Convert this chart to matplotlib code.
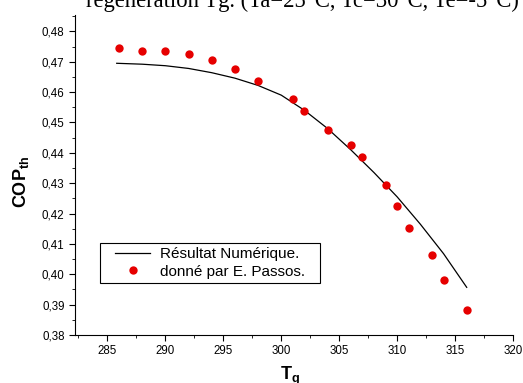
import numpy as np
import matplotlib.pyplot as plt
from matplotlib.ticker import MultipleLocator, FuncFormatter
from matplotlib.patches import Rectangle

# courbe numérique
t_num = [285.8, 288, 290, 292, 294, 296, 298, 300, 302, 304, 306, 308, 310, 312, 314, 316]
cop_num = [0.4695, 0.4692, 0.4687, 0.4678, 0.4664, 0.4646, 0.4622, 0.4590, 0.4540,
           0.4480, 0.4410, 0.4335, 0.4255, 0.4165, 0.4068, 0.3957]

# points E. Passos
t_pas = [286, 288, 290, 292, 294, 296, 298, 301, 302, 304, 306, 307, 309, 310, 311, 313, 314, 316]
cop_pas = [0.4745, 0.4735, 0.4735, 0.4725, 0.4705, 0.4676, 0.4636, 0.4577, 0.4538,
           0.4475, 0.4426, 0.4386, 0.4293, 0.4224, 0.4152, 0.4063, 0.3980, 0.3882]

plt.rcParams['font.family'] = ['Liberation Sans', 'DejaVu Sans']
plt.rcParams['mathtext.fontset'] = 'custom'
plt.rcParams['mathtext.bf'] = 'Liberation Sans:bold'
plt.rcParams['mathtext.rm'] = 'Liberation Sans'

fig = plt.figure(figsize=(5.23, 3.83), dpi=100)
ax = fig.add_axes([0.1434, 0.1253, 0.8376, 0.8355])

ax.plot(t_num, cop_num, color='black', lw=0.9, label='Résultat Numérique.')
ax.plot(t_pas, cop_pas, 'o', color='#e60000', ms=6, mec='none', label='donné par E. Passos.')

ax.set_xlim(282.2, 320)
ax.set_ylim(0.38, 0.4854)
ax.spines['top'].set_visible(False)
ax.spines['right'].set_visible(False)

ax.xaxis.set_major_locator(MultipleLocator(5))
ax.xaxis.set_minor_locator(MultipleLocator(2.5))
ax.yaxis.set_major_locator(MultipleLocator(0.01))
ax.yaxis.set_minor_locator(MultipleLocator(0.005))
ax.yaxis.set_major_formatter(FuncFormatter(lambda v, p: f"{v:.2f}".replace('.', ',')))
ax.tick_params(which='major', direction='out', length=4, labelsize=8.3)
ax.tick_params(which='minor', direction='out', length=2.5)

ax.set_ylabel(r'$\mathbf{COP_{th}}$', fontsize=13)
ax.yaxis.set_label_coords(-0.1, 0.48)
ax.set_xlabel(r'$\mathbf{T_g}$', fontsize=13)
ax.xaxis.set_label_coords(0.49, -0.094)
ax.xaxis.label.set_va('top')

# cadre de la légende
ax.add_patch(Rectangle((0.057, 0.163), 0.502, 0.125, transform=ax.transAxes,
                       fill=True, facecolor='white', edgecolor='black', lw=0.8, zorder=4))
leg = ax.legend(loc='center', bbox_to_anchor=(0.308, 0.2255), fontsize=11,
                frameon=False, handlelength=2.3, borderpad=0.1,
                labelspacing=0.25, handletextpad=0.6)
leg.set_zorder(5)

fig.text(0.578, 0.981, 'régénération Tg. (Ta=25°C, Tc=30°C, Te=-5°C)',
         family='Liberation Serif', fontsize=16.3, ha='center', va='baseline')

fig.savefig('out.png', dpi=100)
